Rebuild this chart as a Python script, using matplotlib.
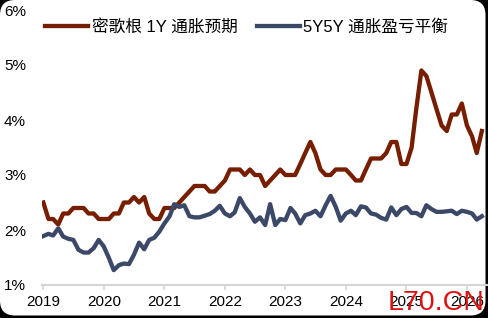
import numpy as np
import pandas as pd
import matplotlib
matplotlib.use("Agg")
import matplotlib.pyplot as plt
import matplotlib.dates as mdates
from matplotlib.patches import FancyBboxPatch
from matplotlib.transforms import IdentityTransform

plt.rcParams['font.family'] = ['Liberation Sans', 'Noto Sans CJK SC', 'DejaVu Sans']

# monthly data, Jan 2019 onwards
dates = pd.date_range('2019-01-01', periods=88, freq='MS')

michigan_1y = [
    2.5, 2.2, 2.2, 2.1, 2.3, 2.3, 2.4, 2.4, 2.4, 2.3, 2.3, 2.2,
    2.2, 2.2, 2.3, 2.3, 2.5, 2.5, 2.6, 2.5, 2.6, 2.3, 2.2, 2.2,
    2.4, 2.4, 2.4, 2.5, 2.6, 2.7, 2.8, 2.8, 2.8, 2.7, 2.7, 2.8,
    2.9, 3.1, 3.1, 3.1, 3.0, 3.1, 3.0, 3.0, 2.8, 2.9, 3.0, 3.1,
    3.0, 3.0, 3.0, 3.2, 3.4, 3.6, 3.4, 3.1, 3.0, 3.0, 3.1, 3.1,
    3.1, 3.0, 2.9, 2.9, 3.1, 3.3, 3.3, 3.3, 3.4, 3.6, 3.6, 3.2,
    3.2, 3.5, 4.2, 4.9, 4.8, 4.5, 4.2, 3.9, 3.8, 4.1, 4.1, 4.3,
    3.9, 3.7, 3.4, 3.8,
]

breakeven_5y5y = [
    1.89, 1.93, 1.90, 2.03, 1.88, 1.84, 1.82, 1.64, 1.59, 1.59, 1.67, 1.82,
    1.70, 1.49, 1.27, 1.36, 1.39, 1.38, 1.55, 1.77, 1.65, 1.82, 1.86, 1.97,
    2.12, 2.25, 2.47, 2.42, 2.45, 2.25, 2.23, 2.23, 2.26, 2.29, 2.35, 2.44,
    2.30, 2.25, 2.32, 2.58, 2.42, 2.30, 2.15, 2.23, 2.09, 2.47, 2.09, 2.20,
    2.18, 2.40, 2.30, 2.12, 2.27, 2.30, 2.35, 2.25, 2.45, 2.62, 2.42, 2.17,
    2.30, 2.35, 2.27, 2.43, 2.41, 2.30, 2.28, 2.22, 2.19, 2.41, 2.27, 2.38,
    2.42, 2.31, 2.31, 2.25, 2.45, 2.38, 2.33, 2.33, 2.34, 2.35, 2.29, 2.35,
    2.33, 2.30, 2.19, 2.25,
]

labels = ['密歌根 1Y 通胀预期', '5Y5Y 通胀盈亏平衡']
red = '#771e00'
navy = '#3b4868'

W, H = 488, 318
fig = plt.figure(figsize=(W / 100, H / 100), dpi=100)
fig.patch.set_facecolor('black')

# white card with rounded corners on black
card = FancyBboxPatch((0, 2.5), 485.5, 315.5,
                      boxstyle='round,pad=0,rounding_size=15',
                      transform=IdentityTransform(), facecolor='white',
                      edgecolor='none', zorder=-1)
fig.add_artist(card)

ax = fig.add_axes([42 / W, (H - 285) / H, (487 - 42) / W, 275 / H])
ax.set_facecolor('none')

ax.plot(dates, michigan_1y, color=red, lw=3.1, label=labels[0])
ax.plot(dates, breakeven_5y5y, color=navy, lw=3.1, label=labels[1])

ax.set_ylim(1, 6)
ax.set_yticks(np.arange(1, 7))
ax.set_yticklabels([f'{v}%' for v in range(1, 7)])
ax.set_xlim(pd.Timestamp('2018-12-24'), pd.Timestamp('2026-05-02'))
ax.xaxis.set_major_locator(mdates.YearLocator())
ax.xaxis.set_major_formatter(mdates.DateFormatter('%Y'))

for s in ['top', 'right', 'left']:
    ax.spines[s].set_visible(False)
ax.spines['bottom'].set_color('#d4d4d4')
ax.spines['bottom'].set_linewidth(1.5)
ax.tick_params(axis='y', length=0, pad=11.5, labelsize=11)
ax.tick_params(axis='x', length=3.6, width=1.2, color='#d4d4d4', pad=3.5, labelsize=11)

fig.legend(loc='center left', bbox_to_anchor=(45 / W, 1 - 27 / H), ncol=2,
           frameon=False, fontsize=12, handlelength=2.6, handletextpad=0.2,
           columnspacing=1.15, borderpad=0, borderaxespad=0)

# site watermark, as in the source image
fig.text(484 / W, 8 / H, 'L70.CN', color='#e01010', fontsize=20.5,
         family='Liberation Sans', ha='right', va='baseline')

fig.savefig('out.png', dpi=100, facecolor=fig.get_facecolor())
